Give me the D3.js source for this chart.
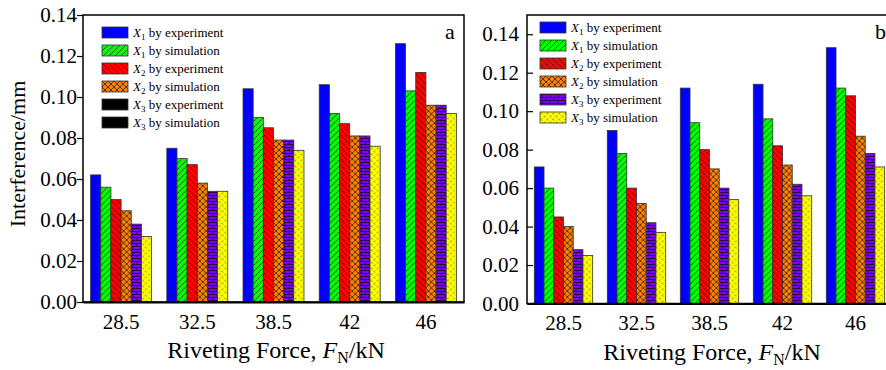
<!DOCTYPE html>
<html>
<head>
<meta charset="utf-8">
<script src="https://cdn.jsdelivr.net/npm/d3@7"></script>
<style>
  body { margin: 0; background: #fff; }
  svg { display: block; font-family: "Liberation Serif", "Times New Roman", serif; }
</style>
</head>
<body>
<svg id="chart" width="886" height="370"></svg>
<script>
// categories and series
const forces = ['28.5', '32.5', '38.5', '42', '46'];
const seriesKeys = ['x1exp', 'x1sim', 'x2exp', 'x2sim', 'x3exp', 'x3sim'];
const seriesSub = ['1', '1', '2', '2', '3', '3'];
const seriesKind = ['experiment', 'simulation', 'experiment', 'simulation', 'experiment', 'simulation'];

// panel a values (one array per series)
const aX1exp = [0.062, 0.075, 0.104, 0.106, 0.126];
const aX1sim = [0.056, 0.070, 0.090, 0.092, 0.103];
const aX2exp = [0.050, 0.067, 0.085, 0.087, 0.112];
const aX2sim = [0.0445, 0.058, 0.079, 0.081, 0.096];
const aX3exp = [0.038, 0.054, 0.079, 0.081, 0.096];
const aX3sim = [0.032, 0.054, 0.074, 0.076, 0.092];

// panel b values
const bX1exp = [0.071, 0.090, 0.112, 0.114, 0.133];
const bX1sim = [0.060, 0.078, 0.094, 0.096, 0.112];
const bX2exp = [0.045, 0.060, 0.080, 0.082, 0.108];
const bX2sim = [0.040, 0.052, 0.070, 0.072, 0.087];
const bX3exp = [0.028, 0.042, 0.060, 0.062, 0.078];
const bX3sim = [0.025, 0.037, 0.054, 0.056, 0.071];

const yTicks = [0, 0.02, 0.04, 0.06, 0.08, 0.10, 0.12, 0.14];

const fills = ['#0000ff', 'url(#pGreen)', 'url(#pRed)', 'url(#pOrange)', 'url(#pPurple)', 'url(#pYellow)'];

const svg = d3.select('#chart');
const defs = svg.append('defs');

function linePattern(id, bg, d) {
  const p = defs.append('pattern').attr('id', id).attr('patternUnits', 'userSpaceOnUse')
    .attr('width', 6).attr('height', 6);
  p.append('rect').attr('width', 6).attr('height', 6).attr('fill', bg);
  p.append('path').attr('d', d).attr('stroke', '#111').attr('stroke-width', 0.7).attr('fill', 'none');
}
linePattern('pGreen', '#00ff00', 'M0,6 L6,0 M-1,1 L1,-1 M5,7 L7,5');
linePattern('pRed', '#ff0000', 'M0,0 L6,6 M-1,5 L1,7 M5,-1 L7,1');
linePattern('pOrange', '#ff8000', 'M0,0 L3,3 L6,0 M0,6 L3,3 L6,6');

const brick = defs.append('pattern').attr('id', 'pPurple').attr('patternUnits', 'userSpaceOnUse')
  .attr('width', 8).attr('height', 6);
brick.append('rect').attr('width', 8).attr('height', 6).attr('fill', '#8000ff');
brick.append('path').attr('d', 'M0,0.5 H8 M0,3.5 H8 M2,0.5 V3.5 M6,3.5 V6.5')
  .attr('stroke', '#111').attr('stroke-width', 0.8).attr('fill', 'none');

const dots = defs.append('pattern').attr('id', 'pYellow').attr('patternUnits', 'userSpaceOnUse')
  .attr('width', 6).attr('height', 6);
dots.append('rect').attr('width', 6).attr('height', 6).attr('fill', '#ffff00');
dots.append('path').attr('d', 'M2,0.5 L1,1.5 L2,2.5 M5,3.5 L4.2,4.5 L5,5.5')
  .attr('stroke', '#333').attr('stroke-width', 0.7).attr('fill', 'none');

function drawPanel(opt) {
  const cols = [opt.v0, opt.v1, opt.v2, opt.v3, opt.v4, opt.v5];
  const data = forces.map((f, i) => ({ force: f, values: cols.map(c => c[i]) }));

  const x = d3.scaleBand().domain(forces).range([opt.left, opt.right]).paddingInner(0.2).paddingOuter(0.1);
  const xi = d3.scaleBand().domain(seriesKeys).range([0, x.bandwidth()]);
  const y = d3.scaleLinear().domain([0, opt.ymax]).range([opt.bottom, opt.top]);

  const g = svg.append('g');

  const groups = g.selectAll('g.grp').data(data).join('g')
    .attr('transform', d => `translate(${x(d.force)},0)`);
  groups.selectAll('rect').data(d => d.values.map((v, k) => ({ k, v }))).join('rect')
    .attr('x', d => xi(seriesKeys[d.k]))
    .attr('width', xi.bandwidth())
    .attr('y', d => y(d.v))
    .attr('height', d => y(0) - y(d.v))
    .attr('fill', d => fills[d.k])
    .attr('stroke', '#333').attr('stroke-width', 0.8);

  // frame
  g.append('rect').attr('x', opt.left).attr('y', opt.top)
    .attr('width', opt.right - opt.left).attr('height', opt.bottom - opt.top)
    .attr('fill', 'none').attr('stroke', '#000').attr('stroke-width', 1.5);

  // y axis
  const yAxis = d3.axisLeft(y).tickValues(yTicks).tickFormat(d3.format('.2f'))
    .tickSize(opt.tickIn ? -6 : 6).tickPadding(opt.tickIn ? 8 : 0);
  const ya = g.append('g').attr('transform', `translate(${opt.left},0)`).call(yAxis);
  ya.select('.domain').remove();
  ya.selectAll('line').attr('stroke', '#000').attr('stroke-width', 1.2);
  ya.selectAll('text').attr('font-size', 21).attr('fill', '#000')
    .attr('font-family', '"Liberation Serif", serif');

  // x axis
  const xa = g.append('g').attr('transform', `translate(0,${opt.bottom})`)
    .call(d3.axisBottom(x).tickSize(0).tickPadding(12));
  xa.select('.domain').attr('stroke', '#000').attr('stroke-width', 2);
  xa.selectAll('text').attr('font-size', 21).attr('fill', '#000')
    .attr('font-family', '"Liberation Serif", serif');

  // x title
  const xt = g.append('text').attr('x', opt.xTitleX).attr('y', opt.bottom + 56)
    .attr('text-anchor', 'middle').attr('font-size', 24).attr('fill', '#000');
  xt.append('tspan').text('Riveting Force, ');
  xt.append('tspan').attr('font-style', 'italic').text('F');
  xt.append('tspan').attr('font-size', 16).attr('dy', 5).text('N');
  xt.append('tspan').attr('dy', -5).text('/kN');

  // panel letter
  g.append('text').attr('x', opt.letterX).attr('y', opt.top + 24)
    .attr('font-size', 22).attr('fill', '#000').text(opt.letter);

  // legend
  const lg = g.append('g').attr('transform', `translate(${opt.legX},${opt.legY})`);
  const rows = lg.selectAll('g').data(seriesKeys).join('g')
    .attr('transform', (d, i) => `translate(0,${i * opt.legStep})`);
  rows.append('rect').attr('width', 26).attr('height', 11)
    .attr('fill', (d, i) => opt.legFills[i]).attr('stroke', '#333').attr('stroke-width', 0.8);
  const lt = rows.append('text').attr('x', 31).attr('y', 10).attr('font-size', 13).attr('fill', '#000');
  lt.append('tspan').attr('font-style', 'italic').text('X');
  lt.append('tspan').attr('font-size', 9).attr('dy', 3).text((d, i) => seriesSub[i]);
  lt.append('tspan').attr('dy', -3).text((d, i) => ' by ' + seriesKind[i]);
}

drawPanel({
  left: 83, right: 464, top: 15, bottom: 302, ymax: 0.14, tickIn: false,
  v0: aX1exp, v1: aX1sim, v2: aX2exp, v3: aX2sim, v4: aX3exp, v5: aX3sim,
  xTitleX: 276, letter: 'a', letterX: 445,
  legX: 102, legY: 27, legStep: 18,
  legFills: ['#0000ff', 'url(#pGreen)', 'url(#pRed)', 'url(#pOrange)', '#000', '#000']
});

drawPanel({
  left: 527, right: 892, top: 15, bottom: 303.5, ymax: 0.15, tickIn: true,
  v0: bX1exp, v1: bX1sim, v2: bX2exp, v3: bX2sim, v4: bX3exp, v5: bX3sim,
  xTitleX: 712, letter: 'b', letterX: 875,
  legX: 540, legY: 22, legStep: 18,
  legFills: fills
});

// y title
svg.append('text').attr('transform', 'translate(25,154) rotate(-90)')
  .attr('text-anchor', 'middle').attr('font-size', 22).attr('fill', '#000')
  .text('Interference/mm');
</script>
</body>
</html>
